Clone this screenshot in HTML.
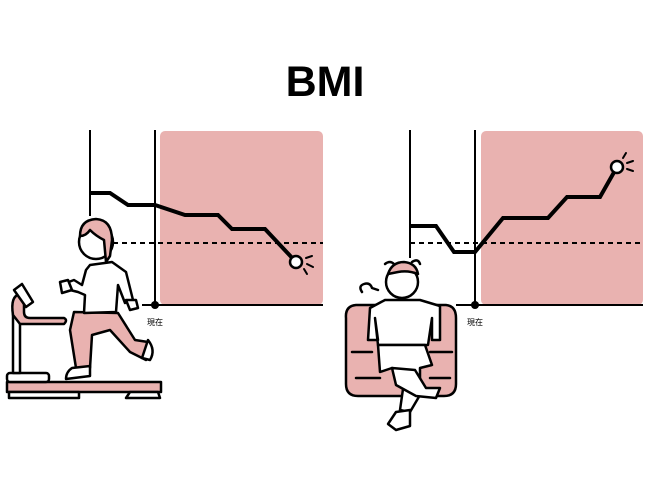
<!DOCTYPE html>
<html><head><meta charset="utf-8"><style>
html,body{margin:0;padding:0;background:#fff;}
svg{display:block}
</style></head><body>
<svg width="650" height="488" viewBox="0 0 650 488" xmlns="http://www.w3.org/2000/svg">
<rect width="650" height="488" fill="#fff"/>
<text x="325" y="96" text-anchor="middle" font-family="Liberation Sans, sans-serif" font-weight="bold" font-size="43" fill="#000">BMI</text>

<!-- LEFT CHART -->
<rect x="160" y="131" width="163" height="174" rx="5" fill="#e9b2b0"/>
<line x1="90" y1="130" x2="90" y2="216" stroke="#000" stroke-width="2"/>
<line x1="155" y1="130" x2="155" y2="305" stroke="#000" stroke-width="2"/>
<line x1="142" y1="305" x2="323" y2="305" stroke="#000" stroke-width="2"/>
<circle cx="155" cy="305" r="4" fill="#000"/>
<line x1="113" y1="243" x2="323" y2="243" stroke="#000" stroke-width="2" stroke-dasharray="5,4"/>
<polyline points="90,193 110,193 128,205 155,205 185,215 218,215 232,229 265,229 296,262" fill="none" stroke="#000" stroke-width="4"/>
<circle cx="296" cy="262" r="6" fill="#fff" stroke="#000" stroke-width="2.5"/>
<g stroke="#000" stroke-width="2" stroke-linecap="round">
<line x1="306" y1="258" x2="312" y2="256"/><line x1="307" y1="264" x2="313" y2="267"/><line x1="304" y1="269" x2="307" y2="274"/></g>
<text x="155" y="325" text-anchor="middle" font-family="Liberation Sans, Noto Sans CJK JP, sans-serif" font-size="8" fill="#000">現在</text>

<!-- RIGHT CHART -->
<rect x="481" y="131" width="162" height="174" rx="5" fill="#e9b2b0"/>
<line x1="410" y1="130" x2="410" y2="258" stroke="#000" stroke-width="2"/>
<line x1="475" y1="130" x2="475" y2="305" stroke="#000" stroke-width="2"/>
<line x1="456" y1="305" x2="643" y2="305" stroke="#000" stroke-width="2"/>
<circle cx="475" cy="305" r="4" fill="#000"/>
<line x1="410" y1="243" x2="643" y2="243" stroke="#000" stroke-width="2" stroke-dasharray="5,4"/>
<polyline points="410,226 436,226 454,252 475,252 503,218 548,218 567,197 600,197 617,167" fill="none" stroke="#000" stroke-width="4"/>
<circle cx="617" cy="167" r="6" fill="#fff" stroke="#000" stroke-width="2.5"/>
<g stroke="#000" stroke-width="2" stroke-linecap="round">
<line x1="623" y1="158" x2="626" y2="153"/><line x1="627" y1="163" x2="633" y2="161"/><line x1="627" y1="169" x2="633" y2="171"/></g>
<text x="475" y="325" text-anchor="middle" font-family="Liberation Sans, Noto Sans CJK JP, sans-serif" font-size="8" fill="#000">現在</text>

<!-- TREADMILL -->
<g stroke="#000" stroke-width="2.5" stroke-linejoin="round" stroke-linecap="round">
<rect x="7" y="382" width="154" height="10" fill="#e9b2b0"/>
<rect x="7" y="373" width="42" height="9" rx="3" fill="#fff"/>
<rect x="9" y="392" width="70" height="6" fill="#fff"/>
<path d="M126 398 L130 392 L158 392 L160 398 Z" fill="#fff"/>
<rect x="13" y="305" width="7" height="68" fill="#fff"/>
<path d="M13 315 Q10 296 20 294 L24 300 L24 312 Q24 318 30 318 L64 318 Q68 320 64 324 L20 324 Z" fill="#e9b2b0"/>
<path d="M14 290 L22 284 L33 302 L26 307 Z" fill="#fff"/>
</g>
<!-- RUNNER -->
<g stroke="#000" stroke-width="2.5" stroke-linejoin="round" stroke-linecap="round">
<path d="M74 312 L118 313 L135 340 L148 342 L146 360 L130 352 L110 330 L92 335 L90 368 L76 368 L70 330 Z" fill="#e9b2b0"/>
<path d="M148 340 Q156 350 150 360 L142 358 Z" fill="#fff"/>
<path d="M72 368 L90 366 L90 376 L66 379 Q66 372 72 368 Z" fill="#fff"/>
<path d="M90 265 L112 262 L126 272 L133 300 L125 303 L118 285 L116 312 L84 313 L85 295 L78 292 L70 290 L66 283 L74 280 L82 285 L86 270 Z" fill="#fff"/>
<path d="M126 300 L136 300 L138 308 L130 310 Z" fill="#fff"/>
<path d="M60 282 L68 280 L72 290 L62 293 Z" fill="#fff"/>
<circle cx="96" cy="242" r="17" fill="#fff"/>
<path d="M80 236 Q80 220 96 219 Q112 220 112 240 L110 256 L106 262 L104 240 Q96 236 90 230 Q86 236 80 236 Z" fill="#e9b2b0"/>
</g>

<!-- CHAIR -->
<g stroke="#000" stroke-width="2.5" stroke-linejoin="round" stroke-linecap="round">
<path d="M346 318 Q345 306 356 305 L446 305 Q456 306 456 318 L456 384 Q456 396 444 396 L358 396 Q346 396 346 384 Z" fill="#e9b2b0"/>
<line x1="352" y1="352" x2="372" y2="352"/><line x1="430" y1="352" x2="452" y2="352"/>
<line x1="356" y1="378" x2="380" y2="378"/><line x1="430" y1="378" x2="450" y2="378"/>
</g>
<!-- SITTING PERSON -->
<g stroke="#000" stroke-width="2.5" stroke-linejoin="round" stroke-linecap="round">
<path d="M370 308 L385 300 L420 300 L440 306 L440 340 L432 340 L432 318 L428 345 L378 345 L375 318 L378 340 L368 340 Z" fill="#fff"/>
<path d="M378 345 L425 345 L432 365 L420 368 L420 395 L410 412 L400 410 L405 375 L392 368 L380 372 Z" fill="#fff"/>
<path d="M392 368 L415 370 L426 388 L440 388 L436 398 L416 396 L396 385 Z" fill="#fff"/>
<path d="M396 412 L410 410 L410 426 L396 430 L388 424 Z" fill="#fff"/>
<circle cx="402" cy="282" r="16" fill="#fff"/>
<path d="M388 274 Q392 262 404 262 Q416 263 418 274 Q408 270 398 272 Z" fill="#e9b2b0"/>
<path d="M385 264 Q390 260 394 264 M412 262 Q418 258 420 264" fill="none"/>
<path d="M362 292 Q358 286 364 284 Q370 282 372 288 L378 290" fill="none"/>
</g>
</svg>
</body></html>
